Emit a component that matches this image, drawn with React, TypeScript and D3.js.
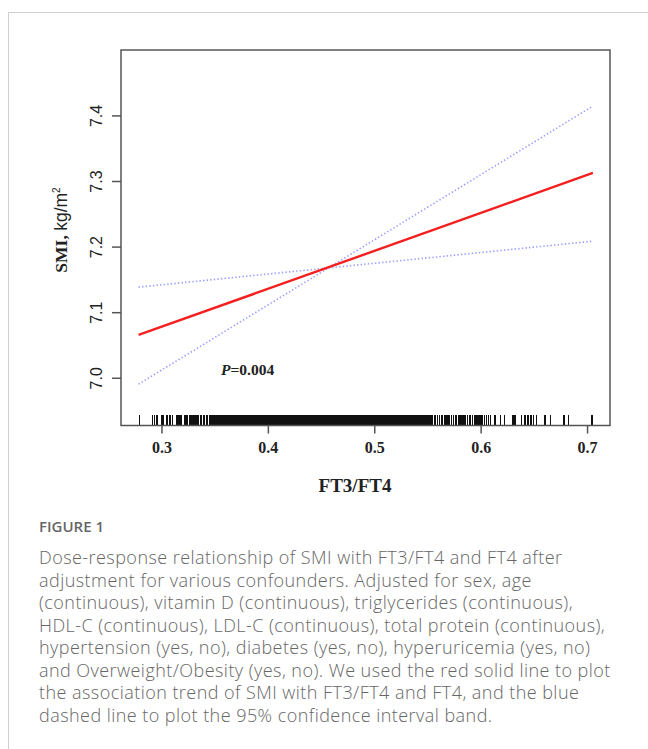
import React from "react";
import * as d3 from "d3";

// ---- data ----
const fitX: number[] = [0.278, 0.705];
const fitY: number[] = [7.066, 7.313];
const ciFlatY: number[] = [7.139, 7.209];
const ciSteepY: number[] = [6.991, 7.415];

const xTicks: number[] = [0.3, 0.4, 0.5, 0.6, 0.7];
const yTicks: number[] = [7.0, 7.1, 7.2, 7.3, 7.4];

const rugSparseLeft: number[] = [
  0.279, 0.291, 0.293, 0.2955, 0.2995, 0.301, 0.3045, 0.3075, 0.31, 0.314,
  0.316, 0.318, 0.321, 0.3225, 0.324, 0.326, 0.3275, 0.329, 0.331, 0.333,
  0.334, 0.336, 0.337, 0.339, 0.34, 0.342, 0.343, 0.345, 0.346, 0.347,
  0.349, 0.35, 0.351, 0.352,
];
const rugDense: number[] = [
  0.353, 0.354, 0.355, 0.356, 0.357, 0.358, 0.359, 0.36, 0.361, 0.362,
  0.363, 0.364, 0.365, 0.366, 0.367, 0.368, 0.369, 0.37, 0.371, 0.372,
  0.373, 0.374, 0.375, 0.376, 0.377, 0.378, 0.379, 0.38, 0.381, 0.382,
  0.383, 0.384, 0.385, 0.386, 0.387, 0.388, 0.389, 0.39, 0.391, 0.392,
  0.393, 0.394, 0.395, 0.396, 0.397, 0.398, 0.399, 0.4, 0.401, 0.402,
  0.403, 0.404, 0.405, 0.406, 0.407, 0.408, 0.409, 0.41, 0.411, 0.412,
  0.413, 0.414, 0.415, 0.416, 0.417, 0.418, 0.419, 0.42, 0.421, 0.422,
  0.423, 0.424, 0.425, 0.426, 0.427, 0.428, 0.429, 0.43, 0.431, 0.432,
  0.433, 0.434, 0.435, 0.436, 0.437, 0.438, 0.439, 0.44, 0.441, 0.442,
  0.443, 0.444, 0.445, 0.446, 0.447, 0.448, 0.449, 0.45, 0.451, 0.452,
  0.453, 0.454, 0.455, 0.456, 0.457, 0.458, 0.459, 0.46, 0.461, 0.462,
  0.463, 0.464, 0.465, 0.466, 0.467, 0.468, 0.469, 0.47, 0.471, 0.472,
  0.473, 0.474, 0.475, 0.476, 0.477, 0.478, 0.479, 0.48, 0.481, 0.482,
  0.483, 0.484, 0.485, 0.486, 0.487, 0.488, 0.489, 0.49, 0.491, 0.492,
  0.493, 0.494, 0.495, 0.496, 0.497, 0.498, 0.499, 0.5, 0.501, 0.502,
  0.503, 0.504, 0.505, 0.506, 0.507, 0.508, 0.509, 0.51, 0.511, 0.512,
  0.513, 0.514, 0.515, 0.516, 0.517, 0.518, 0.519, 0.52, 0.521, 0.522,
  0.523, 0.524, 0.525, 0.526, 0.527, 0.528, 0.529, 0.53, 0.531, 0.532,
  0.533, 0.534, 0.535, 0.536, 0.537, 0.538, 0.539, 0.54, 0.541, 0.542,
  0.543, 0.544, 0.545, 0.546, 0.547,
];
const rugSparseRight: number[] = [
  0.549, 0.551, 0.552, 0.554, 0.556, 0.557, 0.559, 0.561, 0.563, 0.566,
  0.568, 0.57, 0.572, 0.574, 0.576, 0.577, 0.579, 0.581, 0.583, 0.585,
  0.587, 0.589, 0.59, 0.592, 0.594, 0.596, 0.598, 0.6, 0.601, 0.603,
  0.605, 0.607, 0.609, 0.613, 0.618, 0.622, 0.63, 0.632, 0.638, 0.641,
  0.644, 0.647, 0.649, 0.652, 0.66, 0.665, 0.678, 0.682, 0.704,
];

const captionTitle = "FIGURE 1";
const captionLines: string[] = [
  "Dose-response relationship of SMI with FT3/FT4 and FT4 after",
  "adjustment for various confounders. Adjusted for sex, age",
  "(continuous), vitamin D (continuous), triglycerides (continuous),",
  "HDL-C (continuous), LDL-C (continuous), total protein (continuous),",
  "hypertension (yes, no), diabetes (yes, no), hyperuricemia (yes, no)",
  "and Overweight/Obesity (yes, no). We used the red solid line to plot",
  "the association trend of SMI with FT3/FT4 and FT4, and the blue",
  "dashed line to plot the 95% confidence interval band.",
];

const W = 648;
const H = 749;
const box = { left: 121, right: 610, top: 50, bottom: 425.5 };

export default function App() {
  const x = d3.scaleLinear().domain([0.2615, 0.7211]).range([box.left, box.right]);
  const y = d3.scaleLinear().domain([6.928, 7.5005]).range([box.bottom, box.top]);

  const line = d3
    .line<[number, number]>()
    .x((d) => x(d[0]))
    .y((d) => y(d[1]));

  const fitPath = line(fitX.map((v, i) => [v, fitY[i]] as [number, number])) || "";
  const flatPath = line(fitX.map((v, i) => [v, ciFlatY[i]] as [number, number])) || "";
  const steepPath = line(fitX.map((v, i) => [v, ciSteepY[i]] as [number, number])) || "";

  const rug = [...rugSparseLeft, ...rugDense, ...rugSparseRight];
  const serif = "'Liberation Serif', 'Times New Roman', serif";
  const axisCol = "#555";

  return (
    <div style={{ position: "absolute", left: 0, top: 0, width: W, height: H, background: "#fff" }}>
      <svg width={W} height={H} style={{ display: "block" }}>
        <rect x={0} y={0} width={W} height={H} fill="#fff" />
        {/* outer frame */}
        <path d={`M8.5,${H + 5} V12.5 H${W + 5}`} fill="none" stroke="#cfcfcf" strokeWidth={1} />

        {/* CI lines */}
        <path d={flatPath} fill="none" stroke="#9a9cff" strokeWidth={1.6} strokeDasharray="1.4,2.2" />
        <path d={steepPath} fill="none" stroke="#9a9cff" strokeWidth={1.6} strokeDasharray="1.4,2.2" />
        {/* fit line */}
        <path d={fitPath} fill="none" stroke="#f42020" strokeWidth={2.4} />

        {/* rug */}
        <g stroke="#111" strokeWidth={1.5} shapeRendering="crispEdges">
          {rug.map((v, i) => (
            <line key={i} x1={x(v)} x2={x(v)} y1={414.5} y2={box.bottom} />
          ))}
        </g>

        {/* plot box */}
        <rect
          x={box.left}
          y={box.top}
          width={box.right - box.left}
          height={box.bottom - box.top}
          fill="none"
          stroke={axisCol}
          strokeWidth={1.5}
        />

        {/* x ticks */}
        {xTicks.map((t) => (
          <g key={t}>
            <line x1={x(t)} x2={x(t)} y1={box.bottom} y2={box.bottom + 8} stroke={axisCol} strokeWidth={1.5} />
            <text
              x={x(t)}
              y={452.5}
              textAnchor="middle"
              fontFamily={serif}
              fontWeight="bold"
              fontSize={16}
              fill="#222"
            >
              {d3.format(".1f")(t)}
            </text>
          </g>
        ))}
        <text
          x={355}
          y={492}
          textAnchor="middle"
          fontFamily={serif}
          fontWeight="bold"
          fontSize={19}
          fill="#222"
        >
          FT3/FT4
        </text>

        {/* y ticks */}
        {yTicks.map((t) => (
          <g key={t}>
            <line x1={box.left - 9} x2={box.left} y1={y(t)} y2={y(t)} stroke={axisCol} strokeWidth={1.5} />
            <text
              transform={`translate(102,${y(t)}) rotate(-90)`}
              textAnchor="middle"
              fontFamily="'Liberation Sans Narrow', 'Arial Narrow', 'Liberation Sans', sans-serif"
              fontSize={16}
              fill="#222"
            >
              {d3.format(".1f")(t)}
            </text>
          </g>
        ))}
        <text
          transform={`translate(67,${230}) rotate(-90)`}
          textAnchor="middle"
          fontFamily={serif}
          fontSize={17.5}
          fill="#222"
        >
          <tspan fontWeight="bold">SMI, </tspan>
          <tspan fontFamily="'Liberation Sans Narrow', 'Liberation Sans', sans-serif">kg/m</tspan>
          <tspan fontSize={10} dy={-7} fontFamily="'Liberation Sans', sans-serif">2</tspan>
        </text>

        {/* P value */}
        <text x={221} y={375} fontFamily={serif} fontWeight="bold" fontSize={15.5} fill="#222">
          <tspan fontStyle="italic">P</tspan>
          <tspan>=0.004</tspan>
        </text>

        {/* caption */}
        <text x={39} y={532} fontFamily="'Open Sans', sans-serif" fontSize={15} fontWeight={600} fill="#666">
          {captionTitle}
        </text>
        {captionLines.map((l, i) => (
          <text
            key={i}
            x={39}
            y={564 + i * 22.5}
            fontFamily="'Open Sans', sans-serif"
            fontSize={18}
            fontWeight={300}
            letterSpacing={0.45}
            fill="#666"
          >
            {l}
          </text>
        ))}
      </svg>
    </div>
  );
}
